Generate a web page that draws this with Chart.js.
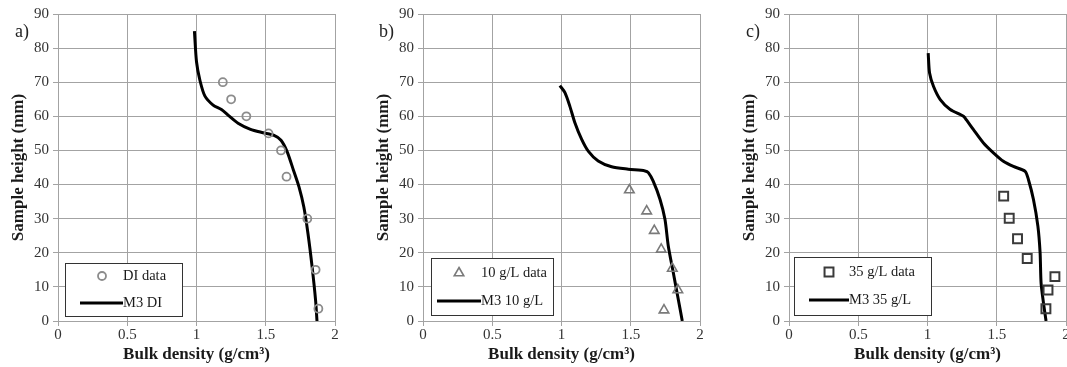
<!DOCTYPE html>
<html>
<head>
<meta charset="utf-8">
<script src="https://cdn.jsdelivr.net/npm/chart.js@4/dist/chart.umd.min.js"></script>
<style>
html, body { margin: 0; padding: 0; background: #fff; overflow: hidden; width: 1067px; height: 367px; }
.panel { position: absolute; top: 0; }
</style>
</head>
<body>
<div class="panel" style="left:0px"><canvas id="chartA" width="356" height="367"></canvas></div>
<div class="panel" style="left:365px"><canvas id="chartB" width="356" height="367"></canvas></div>
<div class="panel" style="left:731px"><canvas id="chartC" width="356" height="367"></canvas></div>
<script>
// datos (x = densidad g/cm3, y = altura mm)
var diDataX = [1.19, 1.25, 1.36, 1.52, 1.61, 1.65, 1.80, 1.86, 1.88];
var diDataY = [70, 65, 60, 55, 50, 42.3, 30, 15, 3.6];
var m3DiX = [0.985, 1.0, 1.025, 1.06, 1.12, 1.18, 1.23, 1.30, 1.39, 1.48, 1.56, 1.61, 1.655, 1.70, 1.74, 1.775, 1.805, 1.835, 1.86, 1.87];
var m3DiY = [85, 76, 70.5, 66, 63.3, 62, 60.3, 58, 56.2, 55.2, 54.4, 53, 49.6, 44.2, 39.3, 33.4, 25.6, 15.8, 6, 0];

var g10DataX = [1.49, 1.615, 1.67, 1.72, 1.80, 1.84, 1.74];
var g10DataY = [38.4, 32.2, 26.5, 21, 15.4, 9.1, 3.2];
var m3g10X = [0.988, 1.024, 1.06, 1.096, 1.145, 1.193, 1.265, 1.362, 1.482, 1.603, 1.627, 1.662, 1.711, 1.747, 1.771, 1.807, 1.843, 1.872];
var m3g10Y = [69, 67, 63, 58.2, 53.3, 49.8, 46.9, 45.2, 44.5, 44, 43.5, 41, 35.7, 29.8, 22, 14.2, 6.4, 0];

var g35DataX = [1.55, 1.59, 1.65, 1.72, 1.92, 1.87, 1.855];
var g35DataY = [36.6, 30.1, 24.1, 18.3, 13, 9.1, 3.6];
var m3g35X = [1.005, 1.015, 1.043, 1.092, 1.164, 1.26, 1.284, 1.332, 1.404, 1.476, 1.548, 1.62, 1.705, 1.729, 1.765, 1.797, 1.813, 1.82, 1.837, 1.856];
var m3g35Y = [78.5, 72.7, 68.8, 64.9, 62, 60, 58.8, 56.1, 52.2, 49.3, 46.8, 45.3, 43.9, 41.4, 35.6, 27.8, 20, 11.2, 5.4, 0];

var xTicks = [0, 0.5, 1, 1.5, 2];
var yTicks = [0, 10, 20, 30, 40, 50, 60, 70, 80, 90];

var FUENTE = '"Liberation Serif", "Times New Roman", serif';
var GRIS = '#a3a3a3';

function juntar(xs, ys) {
  var out = [];
  for (var i = 0; i < xs.length; i++) out.push({ x: xs[i], y: ys[i] });
  return out;
}

function dibujarMarcador(ctx, estilo, x, y, r, color, ancho) {
  ctx.save();
  ctx.strokeStyle = color;
  ctx.lineWidth = ancho;
  ctx.beginPath();
  if (estilo == 'circle') {
    ctx.arc(x, y, r, 0, Math.PI * 2);
  } else if (estilo == 'triangle') {
    var a = 0;
    ctx.moveTo(x + Math.sin(a) * r, y - Math.cos(a) * r);
    a += Math.PI * 2 / 3;
    ctx.lineTo(x + Math.sin(a) * r, y - Math.cos(a) * r);
    a += Math.PI * 2 / 3;
    ctx.lineTo(x + Math.sin(a) * r, y - Math.cos(a) * r);
    ctx.closePath();
  } else {
    var s = Math.SQRT1_2 * r;
    ctx.rect(x - s, y - s, 2 * s, 2 * s);
  }
  ctx.stroke();
  ctx.restore();
}

// etiqueta a)/b)/c) y la leyenda en caja dentro del grafico
function pluginDecoracion(cfg) {
  return {
    id: 'decoracion',
    afterDraw: function(chart) {
      var ctx = chart.ctx;
      var area = chart.chartArea;
      ctx.save();
      ctx.font = '18px ' + FUENTE;
      ctx.fillStyle = '#222';
      ctx.textAlign = 'right';
      ctx.textBaseline = 'middle';
      ctx.fillText(cfg.etiqueta, area.left - 29, 32);

      var bx = Math.round(area.left + cfg.cajaX);
      var by = Math.round(area.bottom - cfg.cajaAbajo - cfg.cajaAlto);
      ctx.fillStyle = '#fff';
      ctx.fillRect(bx, by, cfg.cajaAncho, cfg.cajaAlto);
      ctx.strokeStyle = '#333';
      ctx.lineWidth = 1;
      ctx.strokeRect(bx + 0.5, by + 0.5, cfg.cajaAncho, cfg.cajaAlto);

      var puntos = chart.data.datasets[0];
      var linea = chart.data.datasets[1];
      dibujarMarcador(ctx, puntos.pointStyle, bx + cfg.marcaX, by + cfg.fila1, puntos.pointRadius, puntos.borderColor, puntos.borderWidth);
      ctx.strokeStyle = linea.borderColor;
      ctx.lineWidth = linea.borderWidth;
      ctx.beginPath();
      ctx.moveTo(bx + cfg.lineaX, by + cfg.fila2);
      ctx.lineTo(bx + cfg.textoX, by + cfg.fila2);
      ctx.stroke();

      ctx.font = '14.5px ' + FUENTE;
      ctx.fillStyle = '#1a1a1a';
      ctx.textAlign = 'left';
      ctx.fillText(puntos.label, bx + cfg.textoX, by + cfg.fila1);
      ctx.fillText(linea.label, bx + cfg.textoX, by + cfg.fila2);
      ctx.restore();
    }
  };
}

function crearGrafico(idCanvas, puntosX, puntosY, estilo, radio, colorPunto, anchoPunto, etiquetaPuntos, lineaX, lineaY, etiquetaLinea, cfg) {
  var ctx = document.getElementById(idCanvas).getContext('2d');
  return new Chart(ctx, {
    type: 'scatter',
    data: {
      datasets: [
        {
          label: etiquetaPuntos,
          data: juntar(puntosX, puntosY),
          pointStyle: estilo,
          pointRadius: radio,
          borderColor: colorPunto,
          borderWidth: anchoPunto,
          backgroundColor: 'rgba(0,0,0,0)',
          showLine: false
        },
        {
          label: etiquetaLinea,
          data: juntar(lineaX, lineaY),
          showLine: true,
          borderColor: '#000',
          borderWidth: 3,
          pointRadius: 0,
          tension: 0.25
        }
      ]
    },
    options: {
      responsive: false,
      animation: false,
      devicePixelRatio: 1,
      layout: { padding: { left: 0, right: 21, top: 14, bottom: 0 } },
      plugins: { legend: { display: false }, tooltip: { enabled: false } },
      scales: {
        x: {
          type: 'linear',
          min: xTicks[0],
          max: xTicks[xTicks.length - 1],
          afterBuildTicks: function(scale) { scale.ticks = xTicks.map(function(v) { return { value: v }; }); },
          afterFit: function(scale) { scale.height = 46; },
          ticks: {
            color: '#333',
            font: { family: FUENTE, size: 15 },
            padding: 0,
            maxRotation: 0,
            callback: function(v) { return String(v); }
          },
          grid: { color: GRIS, tickColor: GRIS, tickLength: 5 },
          border: { color: GRIS },
          title: {
            display: true,
            text: 'Bulk density (g/cm³)',
            color: '#1a1a1a',
            font: { family: FUENTE, size: 17, weight: 'bold' },
            padding: { top: 0, bottom: 2 }
          }
        },
        y: {
          type: 'linear',
          min: yTicks[0],
          max: yTicks[yTicks.length - 1],
          afterBuildTicks: function(scale) { scale.ticks = yTicks.map(function(v) { return { value: v }; }); },
          afterFit: function(scale) { scale.width = 58; },
          ticks: {
            color: '#333',
            font: { family: FUENTE, size: 15 },
            padding: 4
          },
          grid: { color: GRIS, tickColor: GRIS, tickLength: 5 },
          border: { color: GRIS },
          title: {
            display: true,
            text: 'Sample height (mm)',
            color: '#1a1a1a',
            font: { family: FUENTE, size: 17, weight: 'bold' },
            padding: { top: 8, bottom: 0 }
          }
        }
      }
    },
    plugins: [pluginDecoracion(cfg)]
  });
}

window.onload = function() {
  crearGrafico('chartA', diDataX, diDataY, 'circle', 4, '#8c8c8c', 1.8, 'DI data', m3DiX, m3DiY, 'M3 DI',
    { etiqueta: 'a)', cajaX: 7, cajaAncho: 117, cajaAlto: 53, cajaAbajo: 5, fila1: 13, fila2: 40, marcaX: 37, textoX: 58, lineaX: 15 });
  crearGrafico('chartB', g10DataX, g10DataY, 'triangle', 5.5, '#7a7a7a', 1.6, '10 g/L data', m3g10X, m3g10Y, 'M3 10 g/L',
    { etiqueta: 'b)', cajaX: 8, cajaAncho: 122, cajaAlto: 57, cajaAbajo: 6, fila1: 15, fila2: 43, marcaX: 28, textoX: 50, lineaX: 6 });
  crearGrafico('chartC', g35DataX, g35DataY, 'rect', 6.3, '#3a3a3a', 2, '35 g/L data', m3g35X, m3g35Y, 'M3 35 g/L',
    { etiqueta: 'c)', cajaX: 5, cajaAncho: 137, cajaAlto: 58, cajaAbajo: 6, fila1: 15, fila2: 43, marcaX: 35, textoX: 55, lineaX: 15 });
};
</script>
</body>
</html>
